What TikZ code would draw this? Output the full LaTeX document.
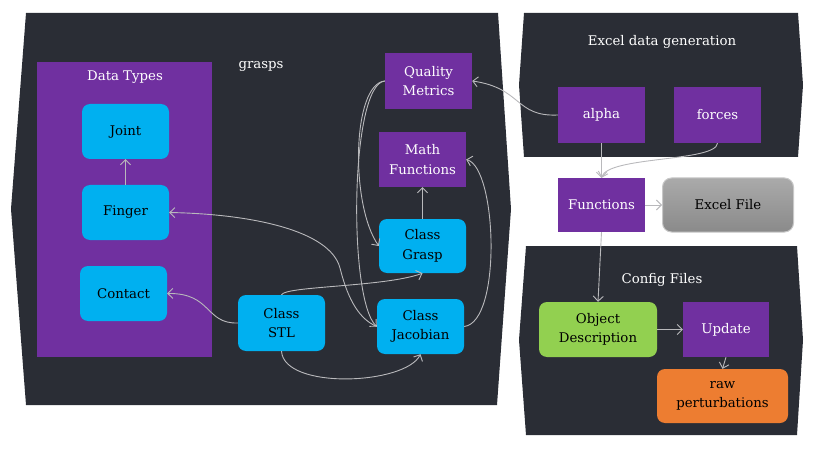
\documentclass[tikz,border=0pt]{standalone}
\usepackage{fontspec}
\setmainfont{DejaVu Serif}
\usetikzlibrary{arrows.meta}
\definecolor{panel}{RGB}{42,45,53}
\definecolor{purp}{RGB}{112,48,160}
\definecolor{cyanb}{RGB}{0,176,240}
\definecolor{greenb}{RGB}{146,208,80}
\definecolor{orangeb}{RGB}{237,125,49}
\definecolor{conncol}{RGB}{185,185,188}
\tikzset{
  base/.style={minimum width=87pt, minimum height=55pt, inner sep=0pt, align=center,
     font=\fontsize{13.3}{19.5}\selectfont},
  purpbox/.style={base, fill=purp, text=white},
  cyanbox/.style={base, fill=cyanb, text=black, rounded corners=8pt},
  greenbox/.style={base, fill=greenb, text=black, rounded corners=8pt},
  orangebox/.style={base, fill=orangeb, text=black, rounded corners=8pt},
  graybox/.style={base, top color={rgb,255:red,170;green,170;blue,170}, bottom color={rgb,255:red,138;green,138;blue,138}, draw={rgb,255:red,200;green,200;blue,200}, line width=1pt, text=black, rounded corners=9pt},
  title/.style={text=white, inner sep=0pt, font=\fontsize{13.3}{19.5}\selectfont},
  conn/.style={draw=conncol, line width=0.9pt, -{Straight Barb[length=5pt,width=10pt]}},
}
\begin{document}
\begin{tikzpicture}[x=1pt,y=-1pt]
\useasboundingbox (0,0) rectangle (816,449);
% panels
\fill[panel] (26,13) -- (498,13) -- (511,209) -- (497,405) -- (26,405) -- (11,209) -- cycle;
\fill[panel] (524,13) -- (798,13) -- (803,85) -- (798,157) -- (524,157) -- (519,85) -- cycle;
\fill[panel] (526,246) -- (797,246) -- (803,340) -- (797,435) -- (526,435) -- (519,340) -- cycle;
\fill[purp] (37,62) rectangle (212,357);
% titles
\node[title] (tdt) at (125,77) {Data Types};
\node[title] (tgr) at (261,66) {grasps};
\node[title] (tex) at (662,42) {Excel data generation};
\node[title] (tcf) at (662,280) {Config Files};
% nodes
\node[cyanbox] (joint) at (125.5,131.5) {Joint};
\node[cyanbox] (finger) at (125.5,212.5) {Finger};
\node[cyanbox] (contact) at (123.5,293.5) {Contact};
\node[purpbox, minimum width=87pt, minimum height=56pt] (qm) at (428.5,81) {Quality\\Metrics};
\node[purpbox] (math) at (422.5,159.5) {Math\\Functions};
\node[cyanbox, minimum height=54pt] (grasp) at (422.5,246) {Class\\Grasp};
\node[cyanbox] (jac) at (420.5,326.5) {Class\\Jacobian};
\node[cyanbox, minimum height=56pt] (stl) at (281.5,323) {Class\\STL};
\node[purpbox, minimum height=56pt] (alpha) at (601.5,115) {alpha};
\node[purpbox, minimum height=56pt] (forces) at (717.5,115) {forces};
\node[purpbox, minimum height=54pt] (func) at (601.5,205) {Functions};
\node[graybox, minimum width=131pt, minimum height=54pt] (excel) at (728,205) {Excel File};
\node[greenbox, minimum width=118pt] (obj) at (598,329.5) {Object\\Description};
\node[purpbox, minimum width=86pt] (upd) at (726,329.5) {Update};
\node[orangebox, minimum width=131pt, minimum height=54pt] (raw) at (722.5,396) {raw\\perturbations};
% connectors
\draw[conn] (finger.north) -- (joint.south);
\draw[conn] (stl.west) .. controls (205,324) and (212,293) .. (contact.east);
\draw[conn] (jac.west) .. controls (356,318) and (346,292) .. (340,268) .. controls (330,230) and (250,214) .. (finger.east);
\draw[conn] (qm.west) .. controls (352,84) and (350,205) .. (grasp.west);
\draw[conn] (qm.west) .. controls (350,84) and (348,300) .. (jac.west);
\draw[conn] (grasp.north) -- (math.south);
\draw[conn] (jac.east) .. controls (502,322) and (497,168) .. (math.east);
\draw[conn] (stl.north) .. controls (285,286) and (385,287) .. (grasp.south);
\draw[conn] (stl.south) .. controls (284,390) and (405,385) .. (jac.south);
\draw[conn] (alpha.west) .. controls (515,117) and (522,88) .. (qm.east);
\draw[conn] (alpha.south) -- (func.north);
\draw[conn] (forces.south) .. controls (716,162) and (608,156) .. (func.north);
\draw[conn] (func.east) -- (excel.west);
\draw[conn] (func.south) -- (obj.north);
\draw[conn] (obj.east) -- (upd.west);
\draw[conn] (upd.south) -- (raw.north);
\end{tikzpicture}
\end{document}
